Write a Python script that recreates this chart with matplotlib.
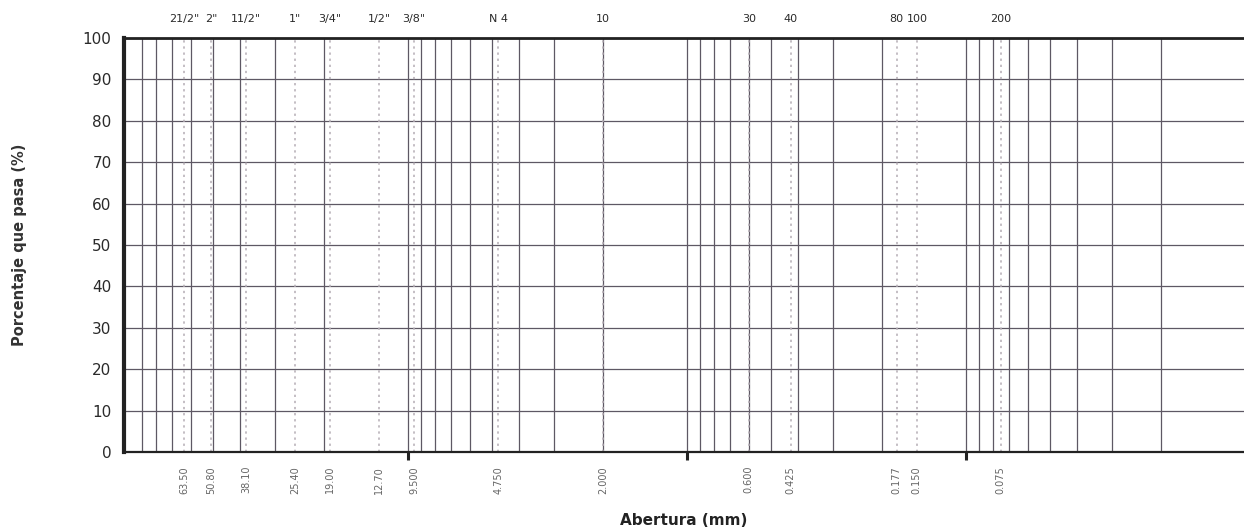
import numpy as np
import matplotlib
matplotlib.use("Agg")
import matplotlib.pyplot as plt

# Sieve series (ASTM) - names on top, openings in mm at the bottom
sieve_names = ['21/2"', '2"', '11/2"', '1"', '3/4"', '1/2"', '3/8"', 'N 4',
               '10', '30', '40', '80', '100', '200']
sieve_mm = [63.50, 50.80, 38.10, 25.40, 19.00, 12.70, 9.500, 4.750,
            2.000, 0.600, 0.425, 0.177, 0.150, 0.075]
sieve_mm_labels = ['63.50', '50.80', '38.10', '25.40', '19.00', '12.70', '9.500',
                   '4.750', '2.000', '0.600', '0.425', '0.177', '0.150', '0.075']
pct_ticks = [0, 10, 20, 30, 40, 50, 60, 70, 80, 90, 100]
decades = [10, 1, 0.1]

fig = plt.figure(figsize=(12.44, 5.29), dpi=100)
ax = fig.add_axes([124 / 1244, 0.1455, 1120 / 1244, 0.783])

ax.set_xscale('log')
ax.set_xlim(104.2, 0.01008)
ax.set_ylim(0, 100)

# log grid lines 1..9 per decade
grid_x = [k * 10.0 ** e for e in range(-2, 2) for k in range(1, 10)]
for gx in grid_x:
    ax.axvline(gx, color='#5e5864', lw=0.9, zorder=1)
for gy in pct_ticks[1:]:
    ax.axhline(gy, color='#5e5864', lw=0.9, zorder=1)

# dotted lines at each sieve
for d in sieve_mm:
    ax.axvline(d, color='#b4acb4', lw=1.1, ls=(0, (1.5, 2.5)), zorder=2)

# y axis
ax.set_yticks(pct_ticks)
ax.set_yticklabels([str(v) for v in pct_ticks], fontsize=11, color='#2a2a2a')
ax.tick_params(axis='y', length=0, pad=9)

# bottom axis: sieve openings
ax.set_xticks(sieve_mm)
ax.set_xticklabels(sieve_mm_labels, rotation=90, fontsize=7, color='#666666')
ax.xaxis.set_minor_locator(matplotlib.ticker.FixedLocator(decades))
ax.xaxis.set_minor_formatter(matplotlib.ticker.NullFormatter())
ax.tick_params(axis='x', which='major', length=0, pad=10)
ax.tick_params(axis='x', which='minor', length=6, width=2.2, color='#222222', direction='out')

# top axis: sieve names
sec = ax.secondary_xaxis('top')
sec.set_xticks(sieve_mm)
sec.set_xticklabels(sieve_names, fontsize=8, color='#2a2a2a')
sec.tick_params(axis='x', length=0, pad=10)
sec.xaxis.set_minor_locator(matplotlib.ticker.NullLocator())
sec.spines['top'].set_visible(False)

for side, lw in [('left', 3.0), ('top', 2.0), ('bottom', 1.6)]:
    ax.spines[side].set_linewidth(lw)
    ax.spines[side].set_color('#222222')
ax.spines['right'].set_visible(False)

ax.set_xlabel('Abertura (mm)', fontsize=11, fontweight='bold', color='#222222', labelpad=14)
ax.set_ylabel('Porcentaje que pasa (%)', fontsize=10.5, fontweight='bold', color='#333333', labelpad=40)

fig.savefig('out.png', dpi=100, facecolor='white')
